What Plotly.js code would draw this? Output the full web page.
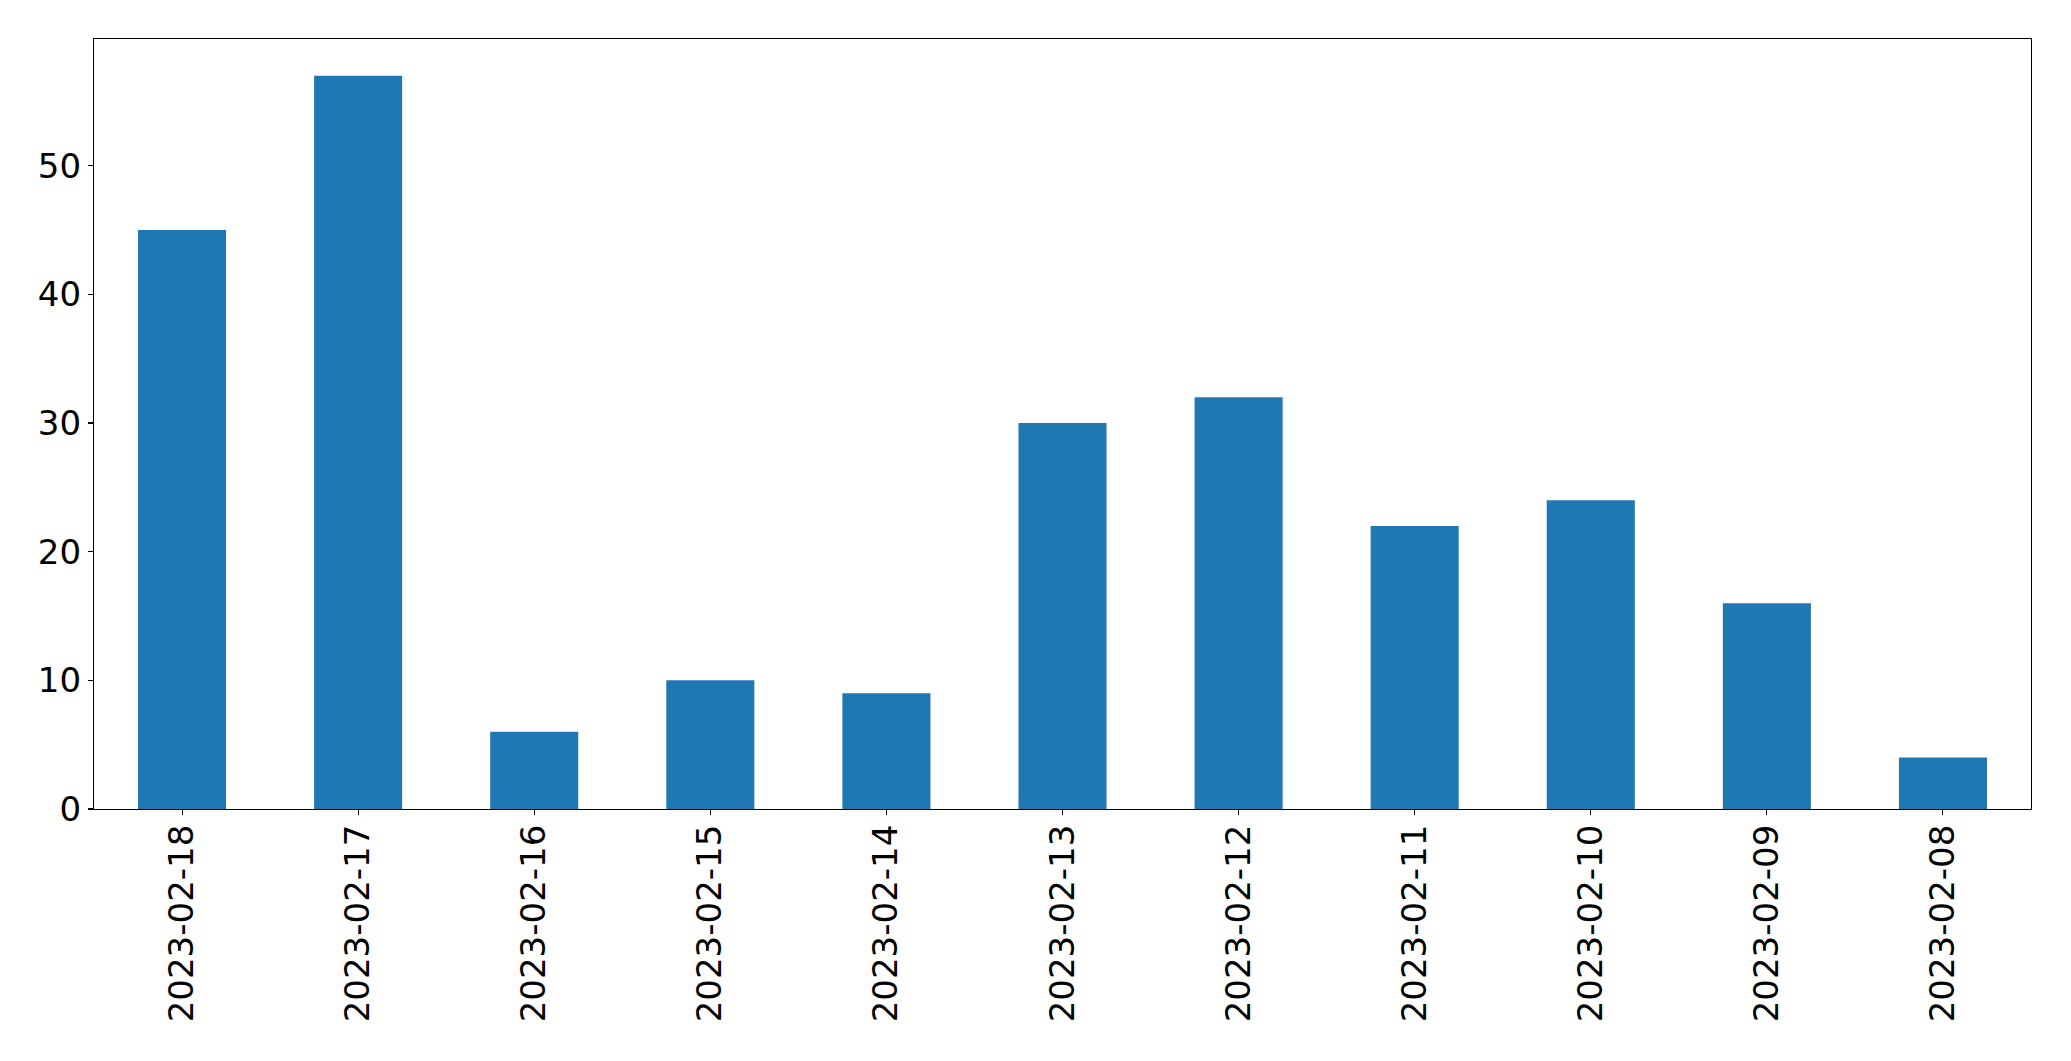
<!DOCTYPE html>
<html>
<head>
<meta charset="utf-8">
<script src="https://cdn.plot.ly/plotly-3.0.1.min.js"></script>
<style>html,body{margin:0;padding:0;background:#fff;}#chart{width:2071px;height:1061px;}</style>
</head>
<body>
<div id="chart"></div>
<script>
const dates = ["2023-02-18","2023-02-17","2023-02-16","2023-02-15","2023-02-14","2023-02-13","2023-02-12","2023-02-11","2023-02-10","2023-02-09","2023-02-08"];
const counts = [45, 57, 6, 10, 9, 30, 32, 22, 24, 16, 4];
const yTicks = [0, 10, 20, 30, 40, 50];

const trace = {
  type: 'bar',
  x: dates,
  y: counts,
  marker: {color: '#1f77b4', line: {width: 0}},
  hoverinfo: 'x+y'
};

const layout = {
  width: 2071,
  height: 1061,
  margin: {l: 94, r: 40, t: 39, b: 252, pad: 0},
  paper_bgcolor: '#ffffff',
  plot_bgcolor: '#ffffff',
  showlegend: false,
  bargap: 0.5,
  font: {family: 'DejaVu Sans', size: 34, color: '#000000'},
  xaxis: {
    type: 'category',
    range: [-0.5, 10.5],
    tickangle: -90,
    ticks: 'outside',
    ticklen: 5,
    tickwidth: 1.1,
    tickcolor: '#000',
    ticklabelstandoff: -4,
    showline: true,
    linecolor: '#000',
    linewidth: 1.1,
    mirror: true,
    showgrid: false,
    zeroline: false,
    tickfont: {family: 'DejaVu Sans', size: 34, color: '#000'},
    automargin: false
  },
  yaxis: {
    range: [0, 59.85],
    tickvals: yTicks,
    ticktext: yTicks.map(String),
    ticks: 'outside',
    ticklen: 5,
    tickwidth: 1.1,
    tickcolor: '#000',
    showline: true,
    linecolor: '#000',
    linewidth: 1.1,
    mirror: true,
    showgrid: false,
    zeroline: false,
    tickfont: {family: 'DejaVu Sans', size: 34, color: '#000'},
    automargin: false
  }
};

Plotly.newPlot('chart', [trace], layout, {displayModeBar: false, staticPlot: true});
</script>
</body>
</html>
